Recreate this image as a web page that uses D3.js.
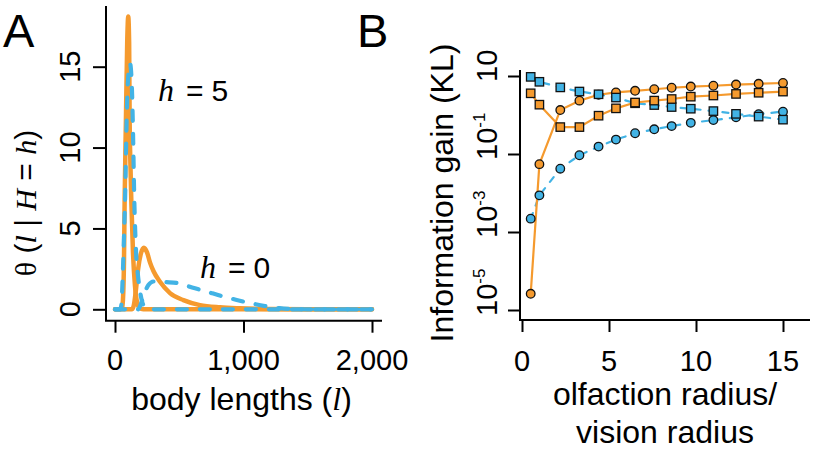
<!DOCTYPE html>
<html>
<head>
<meta charset="utf-8">
<script src="https://cdn.jsdelivr.net/npm/d3@7"></script>
<style>
  html, body { margin: 0; padding: 0; background: #fff; }
  svg { display: block; }
  text { fill: #000; }
</style>
</head>
<body>
<svg id="chart" width="814" height="450"></svg>
<script>
// ---------------- DATA ----------------
// Panel A: theta(l | H = h), body lengths
const xTicksA = [0, 1000, 2000];
const xTickLabelsA = ["0", "1,000", "2,000"];
const yTicksA = [0, 5, 10, 15];

const orangeH5X = [0, 40, 55, 62, 70, 75, 85, 95, 103, 110, 114, 120, 127, 140, 155, 170, 190, 220, 2000];
const orangeH5Y = [0, 0, 0.1, 0.6, 3, 6.7, 11.7, 16.5, 18.1, 16.5, 11.7, 9, 6.7, 3.5, 1.5, 0.5, 0.1, 0, 0];

const orangeH0X = [0, 130, 145, 160, 180, 200, 225, 250, 272, 300, 350, 428, 532, 661, 817, 973, 1200, 1500, 2000];
const orangeH0Y = [0, 0, 0.2, 1.0, 2.5, 3.4, 3.8, 3.5, 2.9, 2.35, 1.7, 1.0, 0.57, 0.26, 0.12, 0.06, 0.02, 0, 0];

const blueH5X = [0, 40, 50, 60, 70, 78, 90, 100, 117, 130, 140, 150, 163, 180, 195, 210, 230, 260, 300, 2000];
const blueH5Y = [0, 0, 0.3, 2, 4.5, 6.7, 11.5, 14, 15.2, 14, 11, 6.8, 3.7, 2.0, 1.1, 0.5, 0.15, 0.03, 0, 0];

const blueH0X = [0, 180, 200, 230, 260, 300, 400, 500, 600, 714, 830, 947, 1060, 1167, 1280, 1400, 1500, 2000];
const blueH0Y = [0, 0, 0.3, 1.0, 1.5, 1.72, 1.68, 1.6, 1.35, 1.09, 0.82, 0.58, 0.37, 0.2, 0.07, 0.01, 0, 0];

// Panel B: information gain (KL)
const xTicksB = [0, 5, 10, 15];
const yTicksB = [10, 0.1, 0.001, 0.00001];
const yTickExpB = ["", "-1", "-3", "-5"];

const radiusRatio = [0.5, 1, 2.2, 3.3, 4.4, 5.4, 6.5, 7.6, 8.6, 9.7, 11, 12.3, 13.6, 15];
const orangeCircles = [2.6e-5, 0.055, 1.34, 2.33, 3.3, 3.8, 4.17, 4.57, 5.0, 5.37, 5.62, 6.03, 6.31, 6.61];
const orangeSquares = [3.6, 1.84, 0.49, 0.49, 0.96, 1.48, 2.09, 2.34, 2.57, 2.95, 3.16, 3.47, 3.72, 3.98];
const blueSquares = [9.5, 7.1, 5.1, 4.0, 3.4, 2.8, 2.0, 1.8, 1.6, 1.45, 1.26, 1.07, 0.91, 0.76];
const blueCircles = [0.0022, 0.0087, 0.042, 0.093, 0.155, 0.234, 0.34, 0.43, 0.52, 0.63, 0.74, 0.87, 1.05, 1.22];

// ---------------- STYLE ----------------
const ORANGE = "#F59A2E";
const BLUE = "#42B3E5";
const SANS = "'Liberation Sans', Arial, Helvetica, sans-serif";
const SERIF = "'Liberation Serif', 'Times New Roman', serif";

const svg = d3.select("#chart");

// ---------------- PANEL A ----------------
const xA = d3.scaleLinear().domain([0, 2000]).range([115, 372]);
const yA = d3.scaleLinear().domain([0, 15]).range([309.3, 66.7]);

const gA = svg.append("g");

gA.append("g").attr("transform", "translate(106,0)")
  .call(d3.axisLeft(yA).tickValues(yTicksA).tickSize(13).tickFormat(""))
  .call(g => g.select(".domain").remove());
gA.append("g").attr("transform", "translate(0,320.7)")
  .call(d3.axisBottom(xA).tickValues(xTicksA).tickSize(12).tickFormat(""))
  .call(g => g.select(".domain").remove());
gA.selectAll(".tick line").attr("stroke", "#000").attr("stroke-width", 2);
gA.append("path").attr("d", "M106,6V320.7H382").attr("fill", "none").attr("stroke", "#000").attr("stroke-width", 2);

gA.selectAll(".ylabA").data(yTicksA).enter().append("text")
  .attr("transform", d => `translate(80,${yA(d)}) rotate(-90)`)
  .attr("text-anchor", "middle")
  .style("font-family", SANS).style("font-size", "29px")
  .text(d => d);
gA.selectAll(".xlabA").data(xTicksA).enter().append("text")
  .attr("x", d => xA(d)).attr("y", 370)
  .attr("text-anchor", "middle")
  .style("font-family", SANS).style("font-size", "29px")
  .text((d, i) => xTickLabelsA[i]);

const lineA = (xs, ys) => d3.line().x((d, i) => xA(xs[i])).y(d => yA(d)).curve(d3.curveMonotoneX)(ys);
gA.append("path").attr("d", lineA(orangeH0X, orangeH0Y)).attr("fill", "none")
  .attr("stroke", ORANGE).attr("stroke-width", 4.5).attr("stroke-linejoin", "round").attr("stroke-linecap", "round");
gA.append("path").attr("d", lineA(orangeH5X, orangeH5Y)).attr("fill", "none")
  .attr("stroke", ORANGE).attr("stroke-width", 4.5).attr("stroke-linejoin", "round").attr("stroke-linecap", "round");
gA.append("path").attr("d", lineA(blueH0X, blueH0Y)).attr("fill", "none")
  .attr("stroke", BLUE).attr("stroke-width", 4.2).attr("stroke-dasharray", "10,13").attr("stroke-linecap", "round");
gA.append("path").attr("d", lineA(blueH5X, blueH5Y)).attr("fill", "none")
  .attr("stroke", BLUE).attr("stroke-width", 4.2).attr("stroke-dasharray", "10,13").attr("stroke-linecap", "round");

function hLabel(g, x, y, val) {
  const t = g.append("text").attr("x", x).attr("y", y);
  t.append("tspan").style("font-family", SERIF).style("font-style", "italic").style("font-size", "32px").text("h");
  t.append("tspan").attr("dx", 12).style("font-family", SANS).style("font-size", "30px").text("=");
  t.append("tspan").attr("dx", 8).style("font-family", SANS).style("font-size", "30px").text(val);
}
hLabel(gA, xA(335), yA(12.9), "5");
hLabel(gA, xA(661), yA(1.94), "0");

const ttlA = gA.append("text").attr("x", xA(1000) - 2).attr("y", 410).attr("text-anchor", "middle")
  .style("font-family", SANS).style("font-size", "32px");
ttlA.append("tspan").text("body lengths (");
ttlA.append("tspan").style("font-family", SERIF).style("font-style", "italic").text("l");
ttlA.append("tspan").text(")");

const ytA = gA.append("text").attr("transform", "translate(36,203) rotate(-90)").attr("text-anchor", "middle")
  .attr("xml:space", "preserve").style("font-size", "30px").style("font-family", SANS);
ytA.append("tspan").style("font-family", SERIF).text("θ");
ytA.append("tspan").text(" (");
ytA.append("tspan").style("font-family", SERIF).style("font-style", "italic").text("l");
ytA.append("tspan").text(" | ");
ytA.append("tspan").style("font-family", SERIF).style("font-style", "italic").text("H");
ytA.append("tspan").text(" = ");
ytA.append("tspan").style("font-family", SERIF).style("font-style", "italic").text("h");
ytA.append("tspan").text(")");

svg.append("text").attr("x", 3).attr("y", 47).style("font-family", SANS).style("font-size", "47px").text("A");

// ---------------- PANEL B ----------------
const xB = d3.scaleLinear().domain([0, 15]).range([522, 783]);
const yB = d3.scaleLog().domain([1e-5, 10]).range([310, 76]);

const gB = svg.append("g");
gB.append("g").attr("transform", "translate(520,0)")
  .call(d3.axisLeft(yB).tickValues(yTicksB).tickSize(12).tickFormat(""))
  .call(g => g.select(".domain").remove());
gB.append("g").attr("transform", "translate(0,320)")
  .call(d3.axisBottom(xB).tickValues(xTicksB).tickSize(12).tickFormat(""))
  .call(g => g.select(".domain").remove());
gB.selectAll(".tick line").attr("stroke", "#000").attr("stroke-width", 2);
gB.append("path").attr("d", "M520,70V320H810").attr("fill", "none").attr("stroke", "#000").attr("stroke-width", 2);

yTicksB.forEach((v, i) => {
  const t = gB.append("text")
    .attr("transform", `translate(497,${yB(v) + 6}) rotate(-90)`)
    .attr("text-anchor", "start")
    .style("font-family", SANS).style("font-size", "29px");
  t.append("tspan").text("10");
  if (yTickExpB[i]) {
    t.append("tspan").attr("dy", -12).style("font-size", "17px").text(yTickExpB[i]);
  }
});
gB.selectAll(".xlabB").data(xTicksB).enter().append("text")
  .attr("x", d => xB(d)).attr("y", 371)
  .attr("text-anchor", "middle")
  .style("font-family", SANS).style("font-size", "29px")
  .text(d => d);

gB.append("text").attr("x", 665).attr("y", 405).attr("text-anchor", "middle")
  .style("font-family", SANS).style("font-size", "32px").text("olfaction radius/");
gB.append("text").attr("x", 665).attr("y", 443).attr("text-anchor", "middle")
  .style("font-family", SANS).style("font-size", "32px").text("vision radius");
gB.append("text").attr("transform", "translate(453,193) rotate(-90)").attr("text-anchor", "middle")
  .style("font-family", SANS).style("font-size", "32px").text("Information gain (KL)");

svg.append("text").attr("x", 357).attr("y", 47).style("font-family", SANS).style("font-size", "47px").text("B");

const lineB = vals => d3.line().x((d, i) => xB(radiusRatio[i])).y(d => yB(d))(vals);
gB.append("path").attr("d", lineB(blueCircles)).attr("fill", "none").attr("stroke", BLUE)
  .attr("stroke-width", 2.2).attr("stroke-dasharray", "6,8").attr("stroke-linecap", "round");
gB.append("path").attr("d", lineB(blueSquares)).attr("fill", "none").attr("stroke", BLUE)
  .attr("stroke-width", 2.2).attr("stroke-dasharray", "6,8").attr("stroke-linecap", "round");
gB.append("path").attr("d", lineB(orangeCircles)).attr("fill", "none").attr("stroke", ORANGE)
  .attr("stroke-width", 2.2).attr("stroke-linejoin", "round");
gB.append("path").attr("d", lineB(orangeSquares)).attr("fill", "none").attr("stroke", ORANGE)
  .attr("stroke-width", 2.2).attr("stroke-linejoin", "round");

function circles(vals, color) {
  gB.append("g").selectAll("circle").data(vals).enter().append("circle")
    .attr("cx", (d, i) => xB(radiusRatio[i])).attr("cy", d => yB(d)).attr("r", 4.3)
    .attr("fill", color).attr("stroke", "#111").attr("stroke-width", 1.3);
}
function squares(vals, color) {
  const s = 8.4;
  gB.append("g").selectAll("rect").data(vals).enter().append("rect")
    .attr("x", (d, i) => xB(radiusRatio[i]) - s / 2).attr("y", d => yB(d) - s / 2)
    .attr("width", s).attr("height", s)
    .attr("fill", color).attr("stroke", "#111").attr("stroke-width", 1.3);
}
circles(blueCircles, BLUE);
circles(orangeCircles, ORANGE);
squares(blueSquares, BLUE);
squares(orangeSquares, ORANGE);
</script>
</body>
</html>
